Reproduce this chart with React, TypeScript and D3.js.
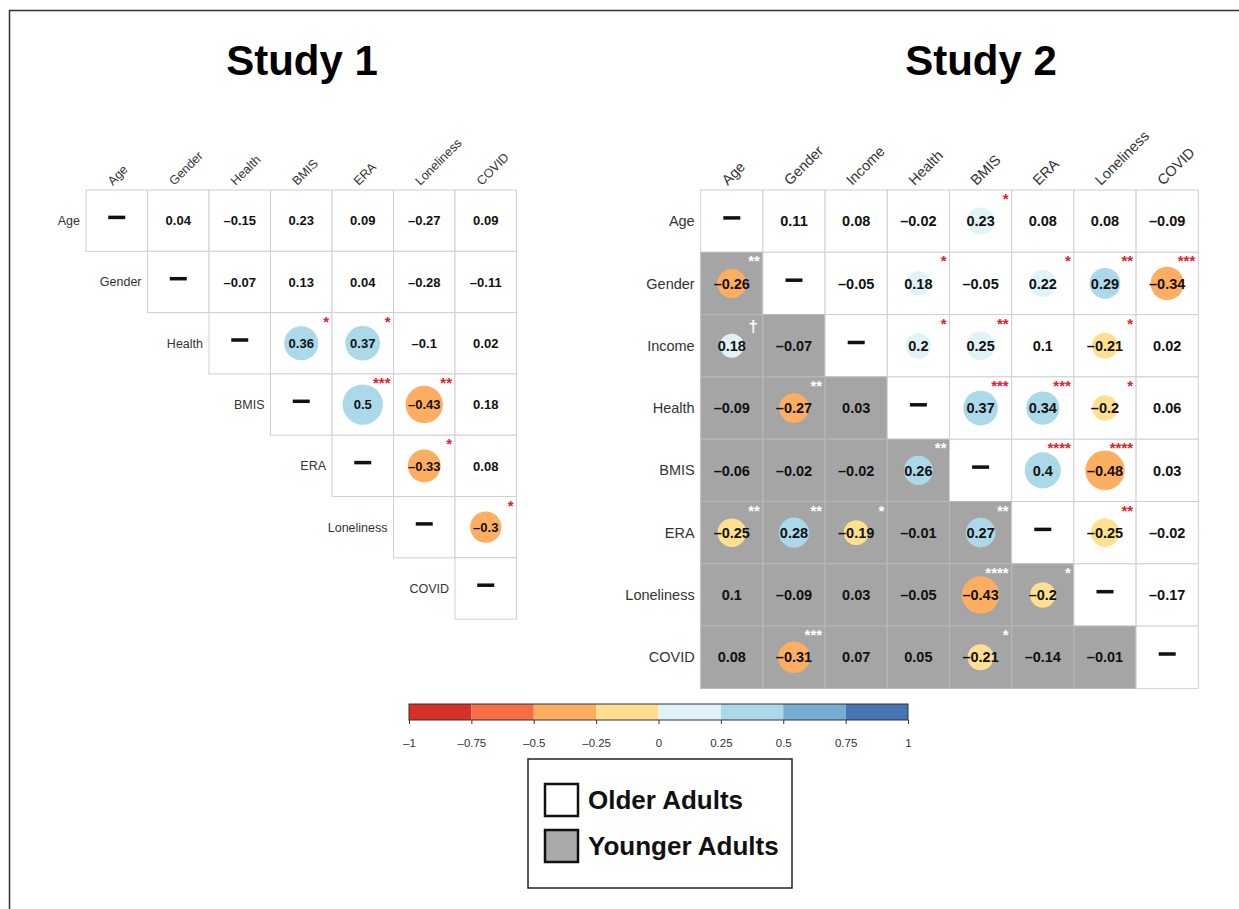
import React, { useRef, useEffect } from 'react';
import * as d3 from 'd3';

const study1Vars = ['Age', 'Gender', 'Health', 'BMIS', 'ERA', 'Loneliness', 'COVID'];
// upper triangle only (older adults), null = diagonal / empty
const study1R: (number | null)[][] = [
    [null, 0.04, -0.15, 0.23, 0.09, -0.27, 0.09],
    [null, null, -0.07, 0.13, 0.04, -0.28, -0.11],
    [null, null, null, 0.36, 0.37, -0.1, 0.02],
    [null, null, null, null, 0.5, -0.43, 0.18],
    [null, null, null, null, null, -0.33, 0.08],
    [null, null, null, null, null, null, -0.3],
    [null, null, null, null, null, null, null],
];
const study1Sig: string[][] = [
    ['', '', '', '', '', '', ''],
    ['', '', '', '', '', '', ''],
    ['', '', '', '*', '*', '', ''],
    ['', '', '', '', '***', '**', ''],
    ['', '', '', '', '', '*', ''],
    ['', '', '', '', '', '', '*'],
    ['', '', '', '', '', '', ''],
];

const study2Vars = ['Age', 'Gender', 'Income', 'Health', 'BMIS', 'ERA', 'Loneliness', 'COVID'];
// upper triangle = older adults, lower triangle = younger adults
const study2R: (number | null)[][] = [
    [null, 0.11, 0.08, -0.02, 0.23, 0.08, 0.08, -0.09],
    [-0.26, null, -0.05, 0.18, -0.05, 0.22, 0.29, -0.34],
    [0.18, -0.07, null, 0.2, 0.25, 0.1, -0.21, 0.02],
    [-0.09, -0.27, 0.03, null, 0.37, 0.34, -0.2, 0.06],
    [-0.06, -0.02, -0.02, 0.26, null, 0.4, -0.48, 0.03],
    [-0.25, 0.28, -0.19, -0.01, 0.27, null, -0.25, -0.02],
    [0.1, -0.09, 0.03, -0.05, -0.43, -0.2, null, -0.17],
    [0.08, -0.31, 0.07, 0.05, -0.21, -0.14, -0.01, null],
];
const study2Sig: string[][] = [
    ['', '', '', '', '*', '', '', ''],
    ['**', '', '', '*', '', '*', '**', '***'],
    ['†', '', '', '*', '**', '', '*', ''],
    ['', '**', '', '', '***', '***', '*', ''],
    ['', '', '', '**', '', '****', '****', ''],
    ['**', '**', '*', '', '**', '', '**', ''],
    ['', '', '', '', '****', '*', '', ''],
    ['', '***', '', '', '*', '', '', ''],
];

const colorTicks = [-1, -0.75, -0.5, -0.25, 0, 0.25, 0.5, 0.75, 1];
const binColors = ['#d73027', '#f46d43', '#fdae61', '#fee090', '#e0f3f8', '#abd9e9', '#74add1', '#4575b4'];
const legendLabels = ['Older Adults', 'Younger Adults'];

const FONT = "'Liberation Sans', Arial, Helvetica, sans-serif";

const App: React.FC = () => {
    const svgRef = useRef<SVGSVGElement>(null);

    useEffect(() => {
        if (!svgRef.current) return;
        const width = 1239;
        const height = 909;

        d3.select(svgRef.current).selectAll('*').remove();
        const svg = d3.select(svgRef.current)
            .attr('width', width)
            .attr('height', height)
            .style('font-family', FONT);

        // frame
        svg.append('path')
            .attr('d', `M9.5,${height} V10.5 H${width}`)
            .attr('fill', 'none')
            .attr('stroke', '#333')
            .attr('stroke-width', 1.5);

        const color = d3.scaleThreshold<number, string>()
            .domain(colorTicks.slice(1, -1))
            .range(binColors);
        // bins are closed toward +-1 (0.25 is pale, -0.25 is yellow)
        const fillOf = (v: number) => color(v - Math.sign(v) * 1e-9);
        const rScale = d3.scaleSqrt().domain([0, 1]).range([0, 28.5]);
        const fmt = (v: number) => String(v).replace('-', '\u2013');

        const drawMatrix = (
            vars: string[], R: (number | null)[][], Sig: string[][],
            x0: number, y0: number, cw: number, ch: number,
            upperOnly: boolean, labelSize: number, valueSize: number
        ) => {
            const n = vars.length;
            const x = d3.scaleBand().domain(vars).range([x0, x0 + n * cw]);
            const y = d3.scaleBand().domain(vars).range([y0, y0 + n * ch]);
            const g = svg.append('g');

            const cells: { i: number; j: number }[] = [];
            vars.forEach((_, i) => vars.forEach((__, j) => {
                if (!upperOnly || j >= i) cells.push({ i, j });
            }));

            const cg = g.selectAll('.cell')
                .data(cells)
                .enter()
                .append('g')
                .attr('transform', d => `translate(${x(vars[d.j])},${y(vars[d.i])})`);

            cg.append('rect')
                .attr('width', cw)
                .attr('height', ch)
                .attr('fill', d => (d.j < d.i ? '#a5a5a5' : '#fff'))
                .attr('stroke', d => (d.j < d.i ? '#b8b8b8' : '#d0d0d0'))
                .attr('stroke-width', 1);

            // circles for significant correlations
            cg.filter(d => R[d.i][d.j] !== null && Sig[d.i][d.j] !== '')
                .append('circle')
                .attr('cx', cw / 2)
                .attr('cy', ch / 2)
                .attr('r', d => rScale(Math.abs(R[d.i][d.j] as number)))
                .attr('fill', d => fillOf(R[d.i][d.j] as number));

            // values
            cg.filter(d => R[d.i][d.j] !== null)
                .append('text')
                .attr('x', cw / 2)
                .attr('y', ch / 2)
                .attr('dy', '0.36em')
                .attr('text-anchor', 'middle')
                .style('font-size', `${valueSize}px`)
                .style('font-weight', 'bold')
                .attr('fill', '#111')
                .text(d => fmt(R[d.i][d.j] as number));

            // diagonal dash
            cg.filter(d => d.i === d.j)
                .append('rect')
                .attr('x', cw / 2 - 8.5)
                .attr('y', ch / 2 - 5)
                .attr('width', 17)
                .attr('height', 3.5)
                .attr('fill', '#111');

            // significance stars / dagger
            cg.filter(d => Sig[d.i][d.j] !== '')
                .append('text')
                .attr('x', d => (Sig[d.i][d.j] === '†' ? cw - 5 : cw - 3))
                .attr('y', d => (Sig[d.i][d.j] === '†' ? 17 : 14))
                .attr('text-anchor', 'end')
                .style('font-size', d => (Sig[d.i][d.j] === '†' ? '17px' : '15px'))
                .style('font-weight', 'bold')
                .attr('fill', d => (d.j < d.i ? '#fff' : '#e0202a'))
                .text(d => Sig[d.i][d.j]);

            // row labels
            g.selectAll('.rowlab')
                .data(vars)
                .enter()
                .append('text')
                .attr('x', (d, i) => (upperOnly ? (x(vars[i]) as number) : x0) - 6)
                .attr('y', d => (y(d) as number) + ch / 2)
                .attr('dy', '0.35em')
                .attr('text-anchor', 'end')
                .style('font-size', `${labelSize}px`)
                .attr('fill', '#333')
                .text(d => d);

            // column labels
            g.selectAll('.collab')
                .data(vars)
                .enter()
                .append('text')
                .attr('transform', d => `translate(${(x(d) as number) + cw / 2 - 4},${y0 - 4}) rotate(-45)`)
                .style('font-size', `${labelSize}px`)
                .attr('fill', '#333')
                .text(d => d);
        };

        drawMatrix(study1Vars, study1R, study1Sig, 86, 190, 61.5, 61.3, true, 12.5, 13);
        drawMatrix(study2Vars, study2R, study2Sig, 700.7, 190, 62.2, 62.3, false, 14.5, 14.5);

        // titles
        svg.append('text')
            .attr('x', 302)
            .attr('y', 75)
            .attr('text-anchor', 'middle')
            .style('font-size', '42px')
            .style('font-weight', 'bold')
            .text('Study 1');
        svg.append('text')
            .attr('x', 981)
            .attr('y', 75)
            .attr('text-anchor', 'middle')
            .style('font-size', '42px')
            .style('font-weight', 'bold')
            .text('Study 2');

        // colour bar
        const cb = d3.scaleLinear().domain([-1, 1]).range([409, 908]);
        const cbTop = 704;
        const cbH = 16;
        svg.append('g')
            .selectAll('rect')
            .data(colorTicks.slice(0, -1))
            .enter()
            .append('rect')
            .attr('x', d => cb(d))
            .attr('y', cbTop)
            .attr('width', d => cb(d + 0.25) - cb(d))
            .attr('height', cbH)
            .attr('fill', (d, i) => binColors[i]);
        svg.append('rect')
            .attr('x', cb(-1))
            .attr('y', cbTop)
            .attr('width', cb(1) - cb(-1))
            .attr('height', cbH)
            .attr('fill', 'none')
            .attr('stroke', '#333')
            .attr('stroke-width', 1);

        const axis = svg.append('g')
            .attr('transform', `translate(0,${cbTop + cbH})`)
            .call(d3.axisBottom(cb).tickValues(colorTicks).tickSize(4).tickPadding(15)
                .tickFormat(d => fmt(+d)));
        axis.select('.domain').remove();
        axis.selectAll('line').attr('stroke', '#333');
        axis.selectAll('text')
            .style('font-size', '11.5px')
            .style('font-family', FONT)
            .attr('fill', '#333');

        // legend
        const lg = svg.append('g');
        lg.append('rect')
            .attr('x', 528)
            .attr('y', 759)
            .attr('width', 264)
            .attr('height', 129)
            .attr('fill', '#fff')
            .attr('stroke', '#222')
            .attr('stroke-width', 1.5);
        const items = lg.selectAll('.item')
            .data(legendLabels)
            .enter()
            .append('g')
            .attr('transform', (d, i) => `translate(545,${784 + i * 46})`);
        items.append('rect')
            .attr('width', 33)
            .attr('height', 32)
            .attr('fill', (d, i) => (i === 0 ? '#fff' : '#a9a9a9'))
            .attr('stroke', '#111')
            .attr('stroke-width', 2.5);
        items.append('text')
            .attr('x', 43)
            .attr('y', 25)
            .style('font-size', '26px')
            .style('font-weight', 'bold')
            .attr('fill', '#111')
            .text(d => d);
    }, []);

    return (
        <>
            <style>{'body{margin:0}'}</style>
            <svg ref={svgRef} style={{ display: 'block' }}></svg>
        </>
    );
};

export default App;
